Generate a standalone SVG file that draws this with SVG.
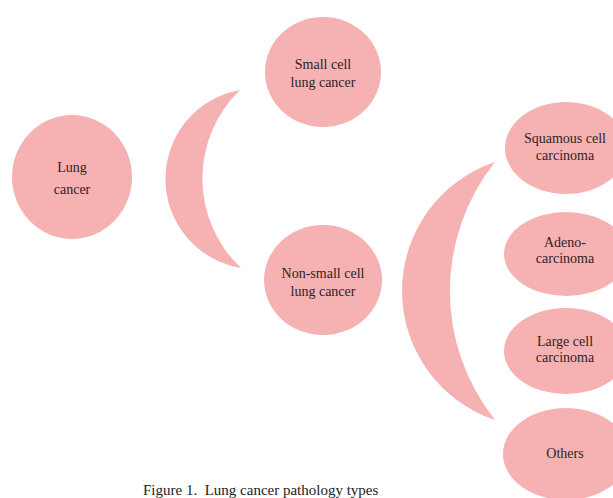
<svg xmlns="http://www.w3.org/2000/svg" width="613" height="498" viewBox="0 0 613 498">
<style>
.n{fill:#F6B1B2}
.c{fill:#F6B1B2}
text{font-family:"Liberation Serif","Times New Roman",serif;font-size:14px;fill:#2e2424;text-anchor:middle}
.cap{font-size:15px;fill:#222;text-anchor:start}
</style>
<rect width="613" height="498" fill="#fff"/>
<g id="connectors">
<path class="c" d="M240,90 A90.3,90.3 0 0 0 241,268 A123,123 0 0 1 240,90 Z"/>
<path class="c" d="M495,162 A136,136 0 0 0 495,420 A207,207 0 0 1 495,162 Z"/>
</g>
<g id="lung">
<ellipse class="n" cx="72" cy="177" rx="60" ry="62"/>
<text x="72" y="172">Lung</text>
<text x="72" y="194">cancer</text>
</g>
<g id="small">
<ellipse class="n" cx="323" cy="72" rx="58" ry="55"/>
<text x="323" y="69">Small cell</text>
<text x="323" y="87">lung cancer</text>
</g>
<g id="nonsmall">
<ellipse class="n" cx="323" cy="280" rx="59" ry="55"/>
<text x="323" y="278">Non-small cell</text>
<text x="323" y="296">lung cancer</text>
</g>
<g id="squamous">
<ellipse class="n" cx="566" cy="148" rx="61" ry="46"/>
<text x="565" y="143">Squamous cell</text>
<text x="565" y="160">carcinoma</text>
</g>
<g id="adeno">
<ellipse class="n" cx="566" cy="254" rx="62" ry="42"/>
<text x="565" y="247">Adeno-</text>
<text x="565" y="263">carcinoma</text>
</g>
<g id="large">
<ellipse class="n" cx="566" cy="351" rx="62" ry="43"/>
<text x="565" y="346">Large cell</text>
<text x="565" y="362">carcinoma</text>
</g>
<g id="others">
<ellipse class="n" cx="566" cy="454" rx="63" ry="46"/>
<text x="565" y="458">Others</text>
</g>
<text class="cap" x="143" y="495" xml:space="preserve">Figure 1.  Lung cancer pathology types</text>
</svg>
